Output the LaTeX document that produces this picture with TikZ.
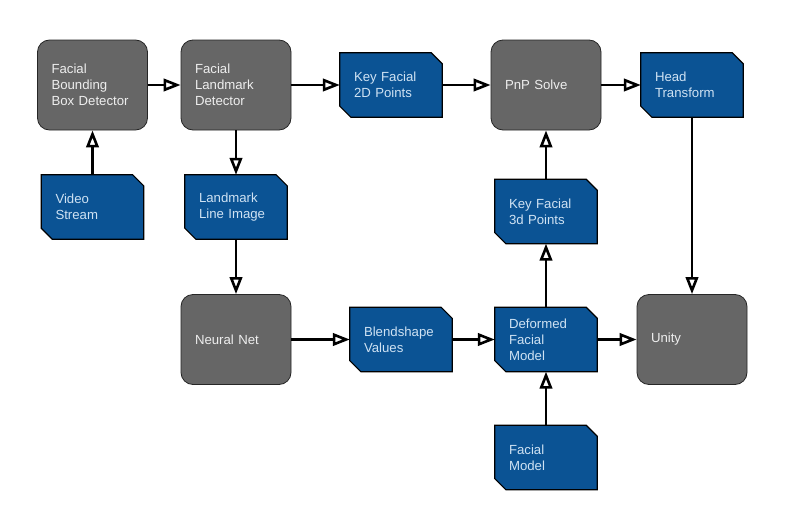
\documentclass[tikz,border=0pt]{standalone}
\usepackage{fontspec}
\setmainfont{Liberation Sans}
\usetikzlibrary{arrows.meta,backgrounds}
\definecolor{boxgrey}{HTML}{666666}
\definecolor{dblue}{HTML}{0B5394}
\definecolor{ltext}{HTML}{EEEEEE}
\definecolor{btext}{HTML}{CFE2F3}
\tikzset{
  lbl/.style={font=\fontsize{13.2}{16}\selectfont, align=left},
  proc/.style={lbl, draw=black!85, line width=0.8pt, fill=boxgrey, rounded corners=12pt,
    minimum width=110pt, minimum height=90pt, text width=82pt, inner xsep=14pt, inner ysep=0pt, text=ltext},
  datanode/.style={lbl, minimum width=102pt, minimum height=64pt, text width=74pt,
    inner xsep=14pt, inner ysep=0pt, text=btext},
  datashape/.style={draw=black, line width=1.2pt, fill=dblue, line join=miter},
  flow/.style={line width=2.6pt, -{Triangle[open,length=17pt,width=12.5pt]}},
}
\newcommand{\dnode}[4]{%
  \node[datanode] (#1) at (#2,#3) {#4};
  \begin{pgfonlayer}{background}
    \draw[datashape] (#1.north west) -- ([xshift=-11pt]#1.north east) -- ([yshift=-11pt]#1.north east)
      -- (#1.south east) -- ([xshift=11pt]#1.south west) -- ([yshift=11pt]#1.south west) -- cycle;
  \end{pgfonlayer}
}
\begin{document}
\begin{tikzpicture}[x=1pt,y=-1pt]
  \begin{pgfonlayer}{background}
    \fill[white] (0,0) rectangle (785,530);
  \end{pgfonlayer}
  \useasboundingbox (0,0) rectangle (785,530);
  % process boxes
  \node[proc] (bbox) at (92.5,85) {Facial\\Bounding\\Box Detector};
  \node[proc] (lmk) at (236,85) {Facial\\Landmark\\Detector};
  \node[proc] (pnp) at (546,85) {PnP Solve};
  \node[proc] (nn) at (236,339.5) {Neural Net};
  \node[proc] (unity) at (692,339.5) {Unity};
  % data boxes
  \dnode{key2d}{391}{85}{Key Facial\\2D Points}
  \dnode{head}{692}{85}{Head\\Transform}
  \dnode{video}{92.5}{207}{Video\\Stream}
  \dnode{line}{236}{207}{Landmark\\Line Image}
  \dnode{key3d}{546}{211.5}{Key Facial\\3d Points}
  \dnode{blend}{401}{339.5}{Blendshape\\Values}
  \dnode{deform}{546}{339.5}{Deformed\\Facial\\Model}
  \dnode{fmodel}{546}{457.5}{Facial\\Model}
  % connectors
  \draw[flow] (bbox.east) -- (lmk.west);
  \draw[flow] (lmk.east) -- (key2d.west);
  \draw[flow] (key2d.east) -- (pnp.west);
  \draw[flow] (pnp.east) -- (head.west);
  \draw[flow] (video.north) -- (bbox.south);
  \draw[flow] (lmk.south) -- (line.north);
  \draw[flow] (line.south) -- (nn.north);
  \draw[flow] (nn.east) -- (blend.west);
  \draw[flow] (blend.east) -- (deform.west);
  \draw[flow] (deform.east) -- (unity.west);
  \draw[flow] (head.south) -- (unity.north);
  \draw[flow] (deform.north) -- (key3d.south);
  \draw[flow] (key3d.north) -- (pnp.south);
  \draw[flow] (fmodel.north) -- (deform.south);
\end{tikzpicture}
\end{document}
